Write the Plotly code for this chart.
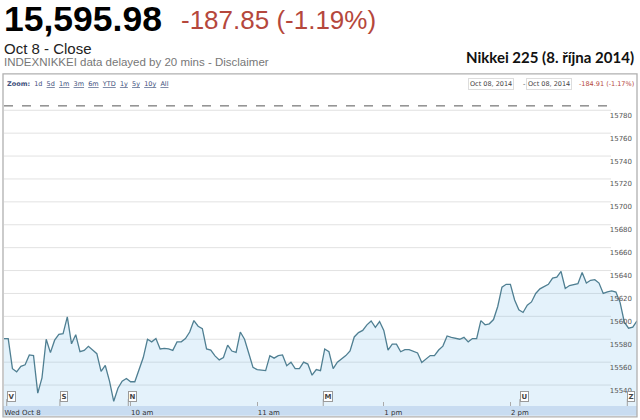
import plotly.graph_objects as go

# ---- data ----
minutes = list(range(0, 301, 2))  # trading minutes since 9:00 (lunch break removed)
values = [
    15580.6, 15580.6, 15554.3, 15551.5, 15556.3, 15557.7, 15566.3, 15565.7, 15532.9, 15546.3,
    15580.0, 15568.3, 15579.2, 15584.3, 15584.9, 15599.5, 15576.0, 15584.0, 15569.1, 15570.3,
    15573.8, 15570.3, 15567.4, 15552.0, 15557.1, 15543.4, 15525.8, 15537.2, 15543.4, 15545.7,
    15542.9, 15542.9, 15553.5, 15564.0, 15580.0, 15577.7, 15580.6, 15571.5, 15572.0, 15571.5,
    15570.3, 15577.7, 15577.7, 15580.6, 15586.3, 15596.3, 15591.4, 15589.2, 15571.5, 15570.6,
    15565.5, 15562.0, 15564.0, 15574.9, 15569.7, 15568.6, 15586.3, 15580.0, 15567.8, 15555.4,
    15553.5, 15552.9, 15552.6, 15565.7, 15563.5, 15565.7, 15566.3, 15556.9, 15560.0, 15554.3,
    15554.3, 15560.0, 15558.3, 15548.6, 15553.5, 15552.6,
    15571.5, 15569.1, 15554.3, 15560.0, 15562.9, 15565.7, 15569.7, 15582.0, 15585.8, 15587.7,
    15592.6, 15596.0, 15590.3, 15595.5, 15587.7, 15570.6, 15575.7, 15575.7, 15569.1, 15570.9,
    15570.9, 15569.7, 15568.0, 15559.7, 15562.9, 15565.7, 15565.7, 15570.6, 15574.0, 15582.9,
    15581.7, 15581.1, 15580.0, 15581.7, 15577.7, 15580.6, 15580.6, 15596.3, 15592.6, 15593.5,
    15597.2, 15608.6, 15625.5, 15628.0, 15628.0, 15614.3, 15605.7, 15603.4, 15609.8, 15612.6,
    15620.0, 15624.0, 15625.7, 15628.0, 15633.4, 15634.3, 15639.2, 15624.3, 15626.9, 15627.8,
    15628.6, 15638.3, 15629.1, 15631.5, 15632.0, 15629.1, 15620.0, 15621.4, 15622.3, 15621.2,
    15612.0, 15594.9, 15589.7, 15590.6, 15595.98,
]
prev_close = 15783.83
y_ticks = [15540, 15560, 15580, 15600, 15620, 15640, 15660, 15680, 15700, 15720, 15740, 15760, 15780]
x_tickvals = [0, 60, 120, 180, 240]
x_ticktext = ["Wed Oct 8", "10 am", "11 am", "1 pm", "2 pm"]
flag_letters = ["V", "S", "N", "M", "U", "Z"]
flag_minutes = [1.3, 26.5, 58.9, 151.3, 244.5, 295.4]

headline_value = "15,595.98"
headline_change = "-187.85 (-1.19%)"
sub1 = "Oct 8 - Close"
sub2 = "INDEXNIKKEI data delayed by 20 mins - Disclaimer"
title = "Nikkei 225 (8. října 2014)"
range_change = "-184.91 (-1.17%)"
range_date = "Oct 08, 2014"

# ---- geometry ----
W, H = 640, 420
ML, MR, MT, MB = 4, 3, 90, 8
PW, PH = W - ML - MR, H - MT - MB


def px(x):
    return (x - ML) / PW


def py(y):
    return (H - MB - y) / PH


VERD = "DejaVu Sans"
ARIAL = "Liberation Sans, Arial"

fig = go.Figure()
fig.add_trace(go.Scatter(
    x=minutes, y=values, mode="lines",
    line=dict(color="#4f7f92", width=1.3),
    fill="tozeroy", fillcolor="rgba(120,190,235,0.2)",
    hoverinfo="skip", showlegend=False,
))

shapes = []
# x-axis band
shapes.append(dict(type="rect", xref="paper", yref="paper", x0=px(3), x1=px(637),
                   y0=py(422), y1=py(412), fillcolor="#c8dcf1", line=dict(width=0), layer="below"))
# gridlines
for t in y_ticks:
    shapes.append(dict(type="line", xref="paper", yref="y", x0=0, x1=px(611), y0=t, y1=t,
                       line=dict(color="#e2e2e2", width=1), layer="below"))
# previous close
shapes.append(dict(type="line", xref="paper", yref="y", x0=0, x1=px(611), y0=prev_close, y1=prev_close,
                   line=dict(color="#555555", width=1, dash="dash"), layer="above"))
# flag stems
for m in flag_minutes:
    shapes.append(dict(type="line", xref="x", yref="paper", x0=m, x1=m, y0=0, y1=py(405),
                       line=dict(color="#a0a0a0", width=1), layer="above"))
# outer frame
shapes.append(dict(type="rect", xref="paper", yref="paper", x0=px(3), x1=px(637),
                   y0=py(423), y1=py(73.5), line=dict(color="#b0b0b0", width=1.3),
                   fillcolor="rgba(0,0,0,0)", layer="above"))

ann = []


def text(s, x, y, size, color, family=ARIAL, xanchor="left", **kw):
    ann.append(dict(text=s, xref="paper", yref="paper", x=px(x), y=py(y), xanchor=xanchor,
                    yanchor="middle", showarrow=False, font=dict(size=size, color=color, family=family), **kw))


text("<b>" + headline_value + "</b>", 1.5, 17.5, 35.5, "#000000")
text(headline_change, 179, 18.5, 26, "#b5473c")
text(sub1, 2, 47.5, 15, "#222222")
text(sub2, 2, 61.5, 11.5, "#777777")
text("<b>" + title + "</b>", 636, 56.5, 15, "#111111", family="Lato", xanchor="right")

zoom_items = ["5d", "1m", "3m", "6m", "YTD", "1y", "5y", "10y", "All"]
zoom_txt = "<b>Zoom:</b>  1d  " + "  ".join("<u>" + z + "</u>" for z in zoom_items)
text(zoom_txt, 5, 83.5, 6.5, "#3d4f7c", family=VERD)
text(range_date, 468, 83.5, 6.5, "#444444", family=VERD, bordercolor="#dddddd", borderwidth=1, borderpad=1)
text("-", 521, 83.5, 6.5, "#444444", family=VERD)
text(range_date, 526, 83.5, 6.5, "#444444", family=VERD, bordercolor="#dddddd", borderwidth=1, borderpad=1)
text(range_change, 636, 83.5, 6.5, "#b5473c", family=VERD, xanchor="right")

for letter, m in zip(flag_letters, flag_minutes):
    ann.append(dict(text="<b>" + letter + "</b>", xref="x", yref="paper", x=m, y=py(402),
                    xanchor="left", yanchor="middle", showarrow=False,
                    font=dict(size=7, color="#444444", family=VERD),
                    bgcolor="#ffffff", bordercolor="#9a9a9a", borderwidth=1, borderpad=0.5))

fig.update_layout(
    width=W, height=H, margin=dict(l=ML, r=MR, t=MT, b=MB),
    paper_bgcolor="#ffffff", plot_bgcolor="#ffffff",
    shapes=shapes, annotations=ann, showlegend=False,
    xaxis=dict(range=[0, 300], tickvals=x_tickvals, ticktext=x_ticktext,
               ticks="inside", ticklen=4, tickcolor="#aaaaaa",
               ticklabelposition="outside right", ticklabelstandoff=1,
               tickfont=dict(size=7, color="#333333", family=VERD),
               showgrid=False, zeroline=False, showline=False, fixedrange=True),
    yaxis=dict(range=[15521.7, 15797.7], side="right", tickvals=y_ticks, tickformat="d",
               ticklabelposition="inside", ticks="", ticklabelshift=5, ticklabelstandoff=2,
               tickfont=dict(size=7, color="#555555", family=VERD),
               showgrid=False, zeroline=False, showline=False, fixedrange=True),
)

fig.write_html("out.html", config={"displayModeBar": False},
               post_script="document.body.style.margin='0';document.body.style.overflow='hidden';")
